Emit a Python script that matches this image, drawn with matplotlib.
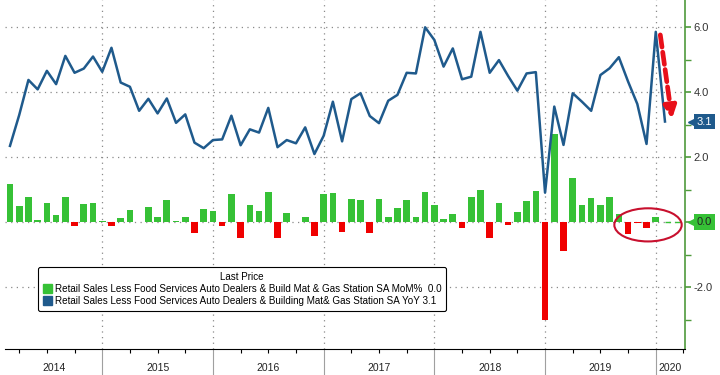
import matplotlib.pyplot as plt
import matplotlib.transforms as mtransforms
from matplotlib.patches import Ellipse, Patch
import numpy as np
import pandas as pd

plt.rcParams['font.family'] = ['Liberation Sans', 'DejaVu Sans']

# monthly data, Feb 2014 .. Jan 2020 (plotted at month end)
months = pd.period_range('2014-02', '2020-01', freq='M')

yoy = [2.35, 3.30, 4.38, 4.09, 4.66, 4.25, 5.12, 4.60, 4.73, 5.10, 4.63,
       5.37, 4.30, 4.17, 3.43, 3.80, 3.35, 3.81, 3.06, 3.32, 2.45, 2.28, 2.53,
       2.55, 3.28, 2.37, 2.86, 2.76, 3.52, 2.31, 2.53, 2.43, 2.92, 2.10, 2.66,
       3.71, 2.49, 3.79, 3.97, 3.27, 3.05, 3.74, 3.92, 4.60, 4.58, 6.00, 5.61,
       4.79, 5.35, 4.40, 4.48, 5.86, 4.60, 4.99, 4.50, 4.05, 4.58, 4.62, 0.91,
       3.56, 2.38, 3.97, 3.71, 3.43, 4.53, 4.74, 5.08, 4.33, 3.64, 2.41, 5.86,
       3.10]

mom = [1.18, 0.51, 0.78, 0.07, 0.58, 0.22, 0.78, -0.11, 0.55, 0.58, 0.05,
       -0.11, 0.13, 0.38, 0.02, 0.47, 0.15, 0.70, 0.04, 0.15, -0.32, 0.41, 0.34,
       -0.11, 0.88, -0.49, 0.52, 0.35, 0.93, -0.49, 0.29, 0.02, 0.17, -0.41, 0.88,
       0.90, -0.29, 0.72, 0.68, -0.32, 0.72, 0.15, 0.45, 0.68, 0.15, 0.93, 0.54,
       0.11, 0.25, -0.17, 0.77, 0.99, -0.49, 0.58, -0.08, 0.32, 0.66, 0.97, -3.00,
       2.72, -0.89, 1.35, 0.52, 0.74, 0.52, 0.79, 0.25, -0.35, -0.03, -0.18, 0.17,
       0.00]

years = ['2014', '2015', '2016', '2017', '2018', '2019', '2020']

mom_label = 'Retail Sales Less Food Services Auto Dealers & Build Mat & Gas Station SA MoM%  0.0'
yoy_label = 'Retail Sales Less Food Services Auto Dealers & Building Mat& Gas Station SA YoY 3.1'

GREEN = '#36c136'
RED = '#f00000'
BLUE = '#1f5a8c'

# x = months since Jan 1 2014, at month end
x = np.array([(p.year - 2014) * 12 + p.month for p in months], dtype=float)
mom = np.array(mom)

fig = plt.figure(figsize=(7.2, 3.75), dpi=100)
ax = fig.add_axes([5 / 720, 26 / 375, 680 / 720, 349 / 375])
x0, x1 = 1.46, 75.17
ax.set_xlim(x0, x1)
ax.set_ylim(-3.9, 6.84)

# grid
for yv in [-2, 0, 2, 4, 6]:
    ax.axhline(yv, color='#8a8a8a', lw=0.9, ls=(0, (1, 3.5)), zorder=0)
for k in range(1, 7):
    ax.axvline(12 * k, color='#8a8a8a', lw=0.9, ls=(0, (1, 3.5)), zorder=0)

colors = [GREEN if v >= 0 else RED for v in mom]
ax.bar(x, mom, width=0.72, color=colors, zorder=2)
ax.plot(x, yoy, color=BLUE, lw=1.8, zorder=3)

# last price line for the bars
ax.plot([x[-1], x1], [mom[-1], mom[-1]], color=GREEN, lw=1, ls=(0, (4, 3)), zorder=2)

# spines
for s in ['top', 'left']:
    ax.spines[s].set_visible(False)
ax.spines['right'].set_color('#4f9a3c')
ax.spines['right'].set_linewidth(1.2)
ax.spines['bottom'].set_color('black')

# y axis on the right (0.0 is covered by the last-value tag)
ax.yaxis.tick_right()
ax.set_yticks([-2, 0, 2, 4, 6])
ax.set_yticklabels(['-2.0', '', '2.0', '4.0', '6.0'])
ax.set_yticks([-3, -1, 1, 3, 5], minor=True)
ax.tick_params(axis='y', which='major', colors='#4f9a3c', length=4, width=1.2,
               labelcolor='#333333', labelsize=8, pad=2)
ax.tick_params(axis='y', which='minor', colors='#4f9a3c', length=4, width=1.0)

# x axis: year dividers and quarter ticks
ax.set_xticks([12 * k for k in range(1, 7)])
ax.set_xticklabels([])
ax.set_xticks([12 * k + q for k in range(0, 7) for q in (3, 6, 9) if x0 < 12 * k + q < x1], minor=True)
ax.tick_params(axis='x', which='major', length=19, width=0.8, color='#a0a0a0')
ax.tick_params(axis='x', which='minor', length=3, width=0.8, color='black')

trans = mtransforms.blended_transform_factory(ax.transData, ax.transAxes)
edges = [x0] + [12 * k for k in range(1, 7)] + [x1]
for i, yr in enumerate(years):
    ax.text((edges[i] + edges[i + 1]) / 2, -0.055, yr, transform=trans,
            ha='center', va='center', fontsize=7.5, color='#222222')

# last value tags
ytrans = mtransforms.blended_transform_factory(ax.transAxes, ax.transData)
for val, fc, tc in [(yoy[-1], BLUE, 'white'), (mom[-1], GREEN, '#222222')]:
    ax.plot([1.01], [val], marker='<', ms=6, color=fc, transform=ytrans, clip_on=False, zorder=5)
    ax.annotate('%.1f' % val, xy=(1.0, val), xycoords=ytrans, xytext=(8.5, 0),
                textcoords='offset points', ha='left', va='center', fontsize=8,
                color=tc, annotation_clip=False,
                bbox=dict(boxstyle='square,pad=0.25', fc=fc, ec='none'))

# red highlight
ax.add_patch(Ellipse((71.16, -0.08), 7.3, 1.02, fill=False, ec='#c8102e', lw=1.5, zorder=4))
ax.annotate('', xy=(73.8, 3.1), xytext=(72.45, 5.85),
            arrowprops=dict(arrowstyle='-|>', color='#e8101a', lw=3.4,
                            linestyle=(0, (2.6, 1.1)), mutation_scale=18))

handles = [Patch(color=GREEN), Patch(color=BLUE)]
leg = fig.legend(handles, [mom_label, yoy_label], title='Last Price',
                 loc='upper left', bbox_to_anchor=(38 / 720, 1 - 267 / 375),
                 borderaxespad=0, fontsize=7.1, title_fontsize=7.1,
                 handlelength=0.9, handleheight=0.9, handletextpad=0.3,
                 labelspacing=0.2, borderpad=0.5,
                 fancybox=True, framealpha=1, edgecolor='black')
leg.get_frame().set_linewidth(0.8)

fig.savefig('out.png', dpi=100)
